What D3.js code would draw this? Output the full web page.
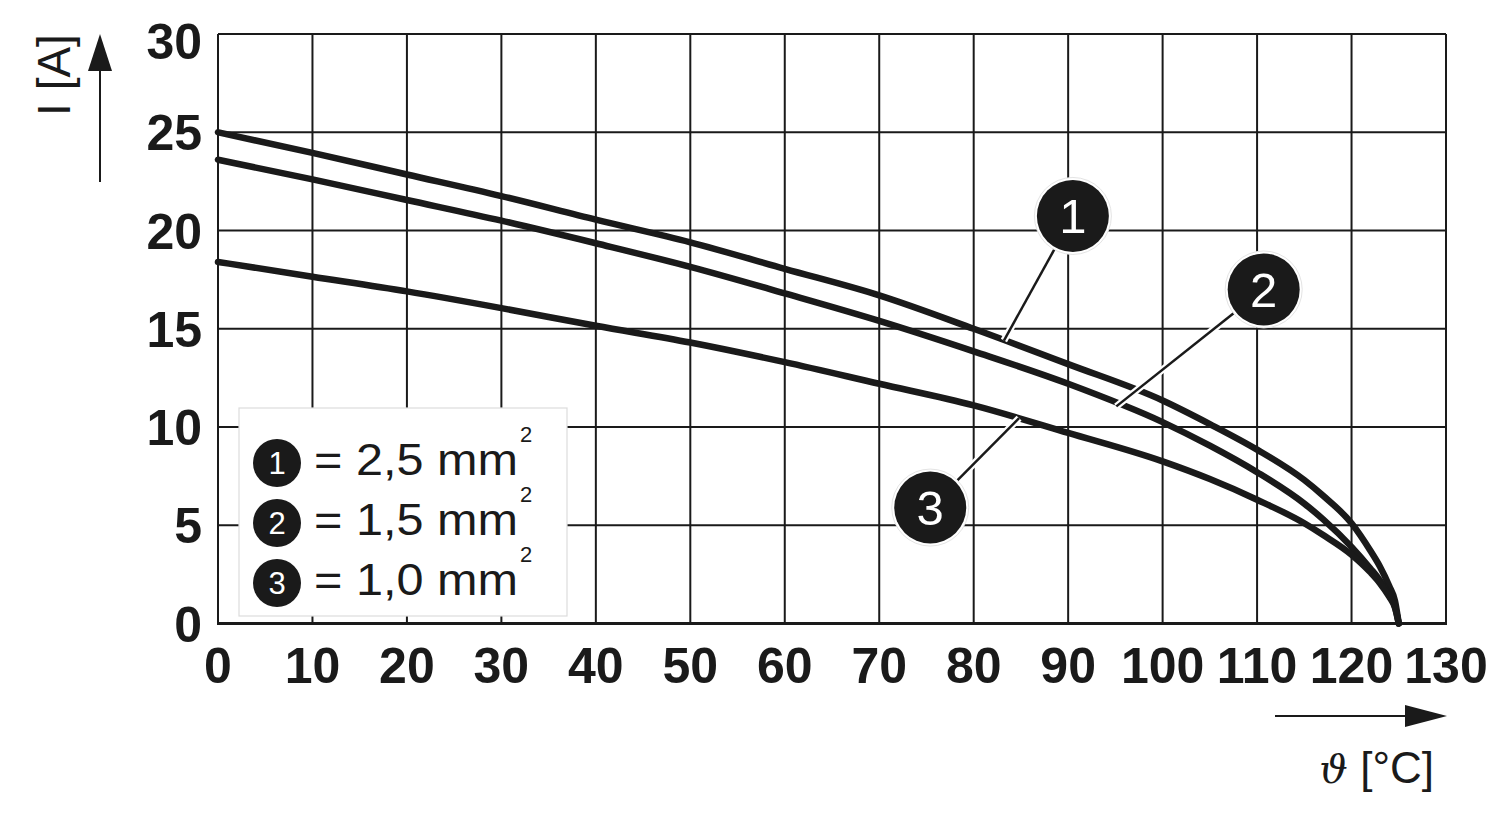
<!DOCTYPE html>
<html><head><meta charset="utf-8">
<script src="https://cdn.jsdelivr.net/npm/d3@7"></script>
<style>html,body{margin:0;padding:0;background:#fff;}</style>
</head><body>
<svg id="chart" width="1500" height="815"></svg>
<script>
// ---- data ----
const temps  = [0,10,20,30,40,50,60,70,80,90,100,105,110,115,117,120,122,123,124,124.6,125];
const curve1 = [25.0,23.95,22.85,21.75,20.55,19.4,18.05,16.7,15.0,13.2,11.35,10.15,8.85,7.3,6.5,5.1,3.7,2.9,1.9,1.15,0];
const curve2 = [23.6,22.6,21.55,20.5,19.35,18.15,16.8,15.4,13.85,12.2,10.25,9.05,7.7,6.1,5.3,3.9,2.8,2.2,1.45,0.85,0];
const curve3 = [18.4,17.65,16.9,16.05,15.15,14.3,13.3,12.2,11.1,9.7,8.25,7.35,6.3,5.1,4.5,3.5,2.6,2.05,1.35,0.8,0];
const xTicks = [0,10,20,30,40,50,60,70,80,90,100,110,120,130];
const yTicks = [0,5,10,15,20,25,30];
const legendNums = ["1","2","3"];
const legendText = ["= 2,5 mm","= 1,5 mm","= 1,0 mm"];
// callouts: [label x, label y, leader end x, leader end y] in data units
const calloutNums = ["1","2","3"];
const calloutPos = [[90.5,20.74,83.2,14.4],[110.7,17.0,95.1,11.05],[75.4,5.9,84.8,10.45]];

const svg = d3.select("#chart");
const L=218, R=1446, T=34, B=623.5;
const x = d3.scaleLinear().domain([0,130]).range([L,R]);
const y = d3.scaleLinear().domain([0,30]).range([B,T]);
const ink = "#1a1a1a";
const sans = "'Liberation Sans', Arial, Helvetica, sans-serif";

// grid
const g = svg.append("g");
g.selectAll("line.v").data(xTicks).join("line")
  .attr("x1",d=>x(d)).attr("x2",d=>x(d)).attr("y1",T).attr("y2",B)
  .attr("stroke",ink).attr("stroke-width",2);
g.selectAll("line.h").data(yTicks).join("line")
  .attr("y1",d=>y(d)).attr("y2",d=>y(d)).attr("x1",L).attr("x2",R)
  .attr("stroke",ink).attr("stroke-width",2);
svg.append("line").attr("x1",L-1).attr("x2",R+1).attr("y1",B).attr("y2",B).attr("stroke",ink).attr("stroke-width",3);

// tick labels
svg.selectAll("text.xt").data(xTicks).join("text")
  .attr("x",d=>x(d)).attr("y",683).attr("text-anchor","middle")
  .attr("font-family",sans).attr("font-weight","bold").attr("font-size",50)
  .attr("fill",ink).text(d=>d);
svg.selectAll("text.yt").data(yTicks).join("text")
  .attr("x",202).attr("y",d=>y(d)+18 + (d===30?7:0)).attr("text-anchor","end")
  .attr("font-family",sans).attr("font-weight","bold").attr("font-size",50)
  .attr("fill",ink).text(d=>d);

// legend box
const lg = svg.append("g");
lg.append("rect").attr("x",239).attr("y",408).attr("width",328).attr("height",208)
  .attr("fill","#fff").attr("stroke","#dcdcdc").attr("stroke-width",1.2);
legendNums.forEach((n,i)=>{
  const cy = 463 + i*60;
  lg.append("circle").attr("cx",277).attr("cy",cy).attr("r",24).attr("fill",ink);
  lg.append("text").attr("x",277).attr("y",cy+11).attr("text-anchor","middle")
    .attr("font-family",sans).attr("font-size",31).attr("fill","#fff").text(n);
  lg.append("text").attr("x",314).attr("y",cy+12)
    .attr("font-family",sans).attr("font-size",45).attr("textLength",204).attr("lengthAdjust","spacingAndGlyphs")
    .attr("fill",ink).text(legendText[i]);
  lg.append("text").attr("x",520).attr("y",cy-21)
    .attr("font-family",sans).attr("font-size",22).attr("fill",ink).text("2");
});

// curves
const line = d3.line().x(d=>x(d[0])).y(d=>y(d[1])).curve(d3.curveMonotoneX);
[curve1,curve2,curve3].forEach(c=>{
  svg.append("path").datum(temps.map((t,i)=>[t,c[i]]))
    .attr("d",line).attr("fill","none").attr("stroke",ink)
    .attr("stroke-width",6.5).attr("stroke-linecap","round").attr("stroke-linejoin","round");
});

// callouts
const r = 36;
calloutPos.forEach((p,i)=>{
  const cx=x(p[0]), cy=y(p[1]), ex=x(p[2]), ey=y(p[3]);
  const dx=ex-cx, dy=ey-cy, len=Math.hypot(dx,dy);
  const sx=cx+dx/len*r, sy=cy+dy/len*r;
  svg.append("line").attr("x1",sx).attr("y1",sy).attr("x2",ex).attr("y2",ey)
    .attr("stroke","#fff").attr("stroke-width",7);
  svg.append("line").attr("x1",sx).attr("y1",sy).attr("x2",ex).attr("y2",ey)
    .attr("stroke",ink).attr("stroke-width",2.5);
  svg.append("circle").attr("cx",cx).attr("cy",cy).attr("r",r+2.5).attr("fill","#fff").attr("stroke","#e4e4e4").attr("stroke-width",1);
  svg.append("circle").attr("cx",cx).attr("cy",cy).attr("r",r).attr("fill",ink);
  svg.append("text").attr("x",cx).attr("y",cy+17.5).attr("text-anchor","middle")
    .attr("font-family",sans).attr("font-size",49).attr("fill","#fff").text(calloutNums[i]);
});

// axis arrows
svg.append("line").attr("x1",100).attr("x2",100).attr("y1",182).attr("y2",68).attr("stroke",ink).attr("stroke-width",2);
svg.append("path").attr("d","M100,34 L112,71 L88,71 Z").attr("fill",ink);
svg.append("line").attr("x1",1275).attr("x2",1408).attr("y1",716).attr("y2",716).attr("stroke",ink).attr("stroke-width",2);
svg.append("path").attr("d","M1447,716 L1405,705 L1405,727 Z").attr("fill",ink);

// axis titles
svg.append("text").attr("transform","translate(70,75) rotate(-90)").attr("text-anchor","middle")
  .attr("font-family",sans).attr("font-size",46).attr("fill",ink).text("I [A]");
const xt = svg.append("text").attr("x",1434).attr("y",783).attr("text-anchor","end")
  .attr("font-family",sans).attr("font-size",44).attr("fill",ink);
xt.append("tspan").attr("font-family","'DejaVu Serif', serif").attr("font-style","italic").attr("font-size",40).text("ϑ");
xt.append("tspan").text(" [°C]");
</script>
</body></html>
